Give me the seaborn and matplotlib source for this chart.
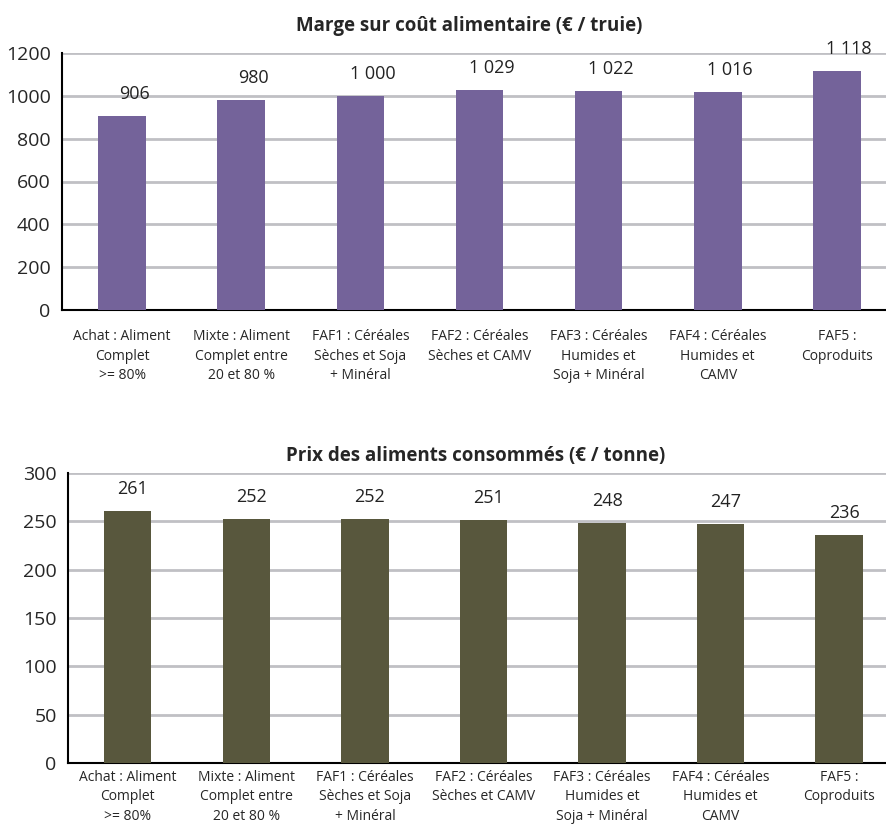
import pandas as pd
import seaborn as sns
import matplotlib.pyplot as plt

# Data
categories = [
    "Achat : Aliment\nComplet\n>= 80%",
    "Mixte : Aliment\nComplet entre\n20 et 80 %",
    "FAF1 : Céréales\nSèches et Soja\n+ Minéral",
    "FAF2 : Céréales\nSèches et CAMV",
    "FAF3 : Céréales\nHumides et\nSoja + Minéral",
    "FAF4 : Céréales\nHumides et\nCAMV",
    "FAF5 :\nCoproduits",
]
marge = [906, 980, 1000, 1029, 1022, 1016, 1118]
prix = [261, 252, 252, 251, 248, 247, 236]
marge_ticks = [0, 200, 400, 600, 800, 1000, 1200]
prix_ticks = [0, 50, 100, 150, 200, 250, 300]

sns.set_style("white")
plt.rcParams['font.family'] = ['Open Sans', 'DejaVu Sans']


def fmt(v):
    return f"{v:,}".replace(",", " ")


def draw(ax, values, ticks, color, title, dx, xpad, tpad):
    df = pd.DataFrame({'cat': categories, 'val': values})
    sns.barplot(data=df, x='cat', y='val', color=color, width=0.4,
                saturation=1, linewidth=0, ax=ax, zorder=3)
    ax.set_xlim(-0.5, len(categories) - 0.5)
    ax.set_ylim(ticks[0], ticks[-1])
    ax.set_yticks(ticks)
    ax.yaxis.grid(True, color='#c0c0c4', linewidth=2, zorder=0)
    ax.set_axisbelow(True)
    for s in ['top', 'right']:
        ax.spines[s].set_visible(False)
    for s in ['left', 'bottom']:
        ax.spines[s].set_linewidth(1.5)
        ax.spines[s].set_color('black')
    ax.set_xticks([i + 0.5 for i in range(len(categories) - 1)], minor=True)
    ax.tick_params(axis='x', which='major', length=0, labelsize=10, pad=xpad)
    ax.tick_params(axis='x', which='minor', length=5, width=1.5, direction='out')
    ax.tick_params(axis='y', length=5, width=1.5, direction='out', labelsize=14)
    for lab in ax.get_xticklabels():
        lab.set_linespacing(1.4)
    ax.set_xlabel('')
    ax.set_ylabel('')
    ax.set_title(title, fontsize=13.5, fontweight='bold', pad=tpad)
    for i, v in enumerate(values):
        ax.annotate(fmt(v), (i, v), xytext=(dx, 22), textcoords='offset pixels',
                    ha='center', va='center', fontsize=13, color='#222222')


fig = plt.figure(figsize=(8.87, 8.25), dpi=100)
ax1 = fig.add_axes([62.5 / 887, 1 - 310 / 825, 834 / 887, 257 / 825])
ax2 = fig.add_axes([68.5 / 887, 1 - 763 / 825, 830 / 887, 290 / 825])

draw(ax1, marge, marge_ticks, '#74639a', "Marge sur coût alimentaire (€ / truie)", 12, 14, 16)
draw(ax2, prix, prix_ticks, '#58573d', "Prix des aliments consommés (€ / tonne)", 5, 5, 9)

for ax in (ax1, ax2):
    ax.title.set_position((407 / ax.get_position().width / 887, 1))

fig.savefig('out.png', dpi=100)
